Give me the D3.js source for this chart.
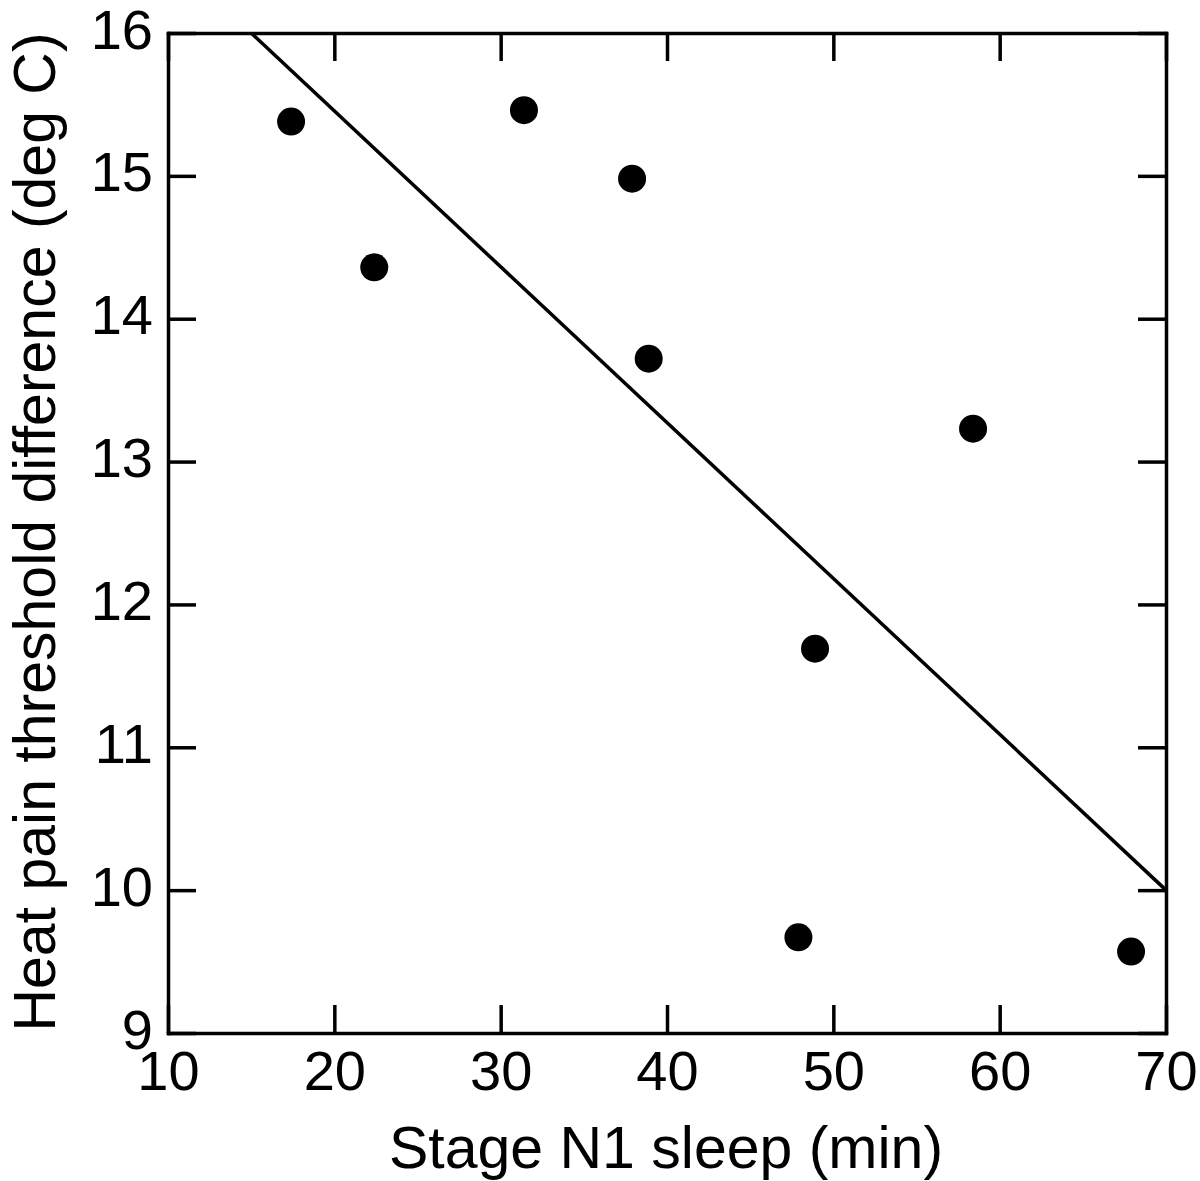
<!DOCTYPE html>
<html>
<head>
<meta charset="utf-8">
<script src="https://cdn.jsdelivr.net/npm/d3@7"></script>
<style>
  body { margin: 0; background: #fff; }
  text { font-family: "Liberation Sans", Arial, Helvetica, sans-serif; fill: #000; }
</style>
</head>
<body>
<div id="my_dataviz"></div>
<script>
// set the dimensions and margins of the graph
var margin = {top: 33, right: 34, bottom: 148, left: 168},
    width = 1200 - margin.left - margin.right,
    height = 1181 - margin.top - margin.bottom;

// data
var n1Sleep   = [17.4, 22.4, 31.4, 37.9, 38.9, 58.4, 48.9, 47.9, 67.9];
var heatDiff  = [15.38, 14.36, 15.46, 14.98, 13.72, 13.23, 11.69, 9.67, 9.57];
var fitX      = [15, 70];
var fitY      = [16, 10];
var xTicks    = [10, 20, 30, 40, 50, 60, 70];
var yTicks    = [9, 10, 11, 12, 13, 14, 15, 16];
var xLabel    = "Stage N1 sleep (min)";
var yLabel    = "Heat pain threshold difference (deg C)";

var points = n1Sleep.map(function(d, i) { return {x: d, y: heatDiff[i]}; });
var fit = fitX.map(function(d, i) { return {x: d, y: fitY[i]}; });

// append the svg object to the body of the page
var svgRoot = d3.select("#my_dataviz")
  .append("svg")
    .attr("width", 1200)
    .attr("height", 1181);
var svg = svgRoot.append("g")
    .attr("transform", "translate(" + margin.left + "," + margin.top + ")");

var x = d3.scaleLinear().domain([10, 70]).range([0, width]);
var y = d3.scaleLinear().domain([9, 16]).range([height, 0]);

var tickLen = 28;
var fmt = d3.format("d");

function styleAxis(g) {
  g.selectAll("path").attr("stroke", "#000").attr("stroke-width", 3.5);
  g.selectAll("line").attr("stroke", "#000").attr("stroke-width", 3.5);
  g.selectAll("text").attr("font-size", 56).attr("fill", "#000");
}

// bottom axis with labels
svg.append("g")
  .attr("transform", "translate(0," + height + ")")
  .call(d3.axisBottom(x).tickValues(xTicks).tickFormat(fmt).tickSizeInner(-tickLen).tickSizeOuter(0).tickPadding(17))
  .call(styleAxis);

// left axis with labels
svg.append("g")
  .call(d3.axisLeft(y).tickValues(yTicks).tickFormat(fmt).tickSizeInner(-tickLen).tickSizeOuter(0).tickPadding(15))
  .call(styleAxis)
  .selectAll("text").attr("dy", "0.27em");

// top and right axes, ticks only
svg.append("g")
  .call(d3.axisTop(x).tickValues(xTicks).tickSizeInner(-tickLen).tickSizeOuter(0).tickFormat(""))
  .call(styleAxis);
svg.append("g")
  .attr("transform", "translate(" + width + ",0)")
  .call(d3.axisRight(y).tickValues(yTicks).tickSizeInner(-tickLen).tickSizeOuter(0).tickFormat(""))
  .call(styleAxis);

svg.selectAll(".domain").attr("stroke-linecap", "square");

// regression line
svg.append("path")
  .datum(fit)
  .attr("fill", "none")
  .attr("stroke", "#000")
  .attr("stroke-width", 3.5)
  .attr("d", d3.line()
    .x(function(d) { return x(d.x); })
    .y(function(d) { return y(d.y); }));

// points
svg.selectAll(".dot")
  .data(points)
  .enter()
  .append("circle")
    .attr("class", "dot")
    .attr("cx", function(d) { return x(d.x); })
    .attr("cy", function(d) { return y(d.y); })
    .attr("r", 14)
    .attr("fill", "#000");

// axis titles
svgRoot.append("text")
  .attr("x", 666)
  .attr("y", 1168)
  .attr("text-anchor", "middle")
  .attr("font-size", 59)
  .text(xLabel);

svgRoot.append("text")
  .attr("transform", "translate(55," + 532 + ") rotate(-90)")
  .attr("text-anchor", "middle")
  .attr("font-size", 59)
  .text(yLabel);
</script>
</body>
</html>
